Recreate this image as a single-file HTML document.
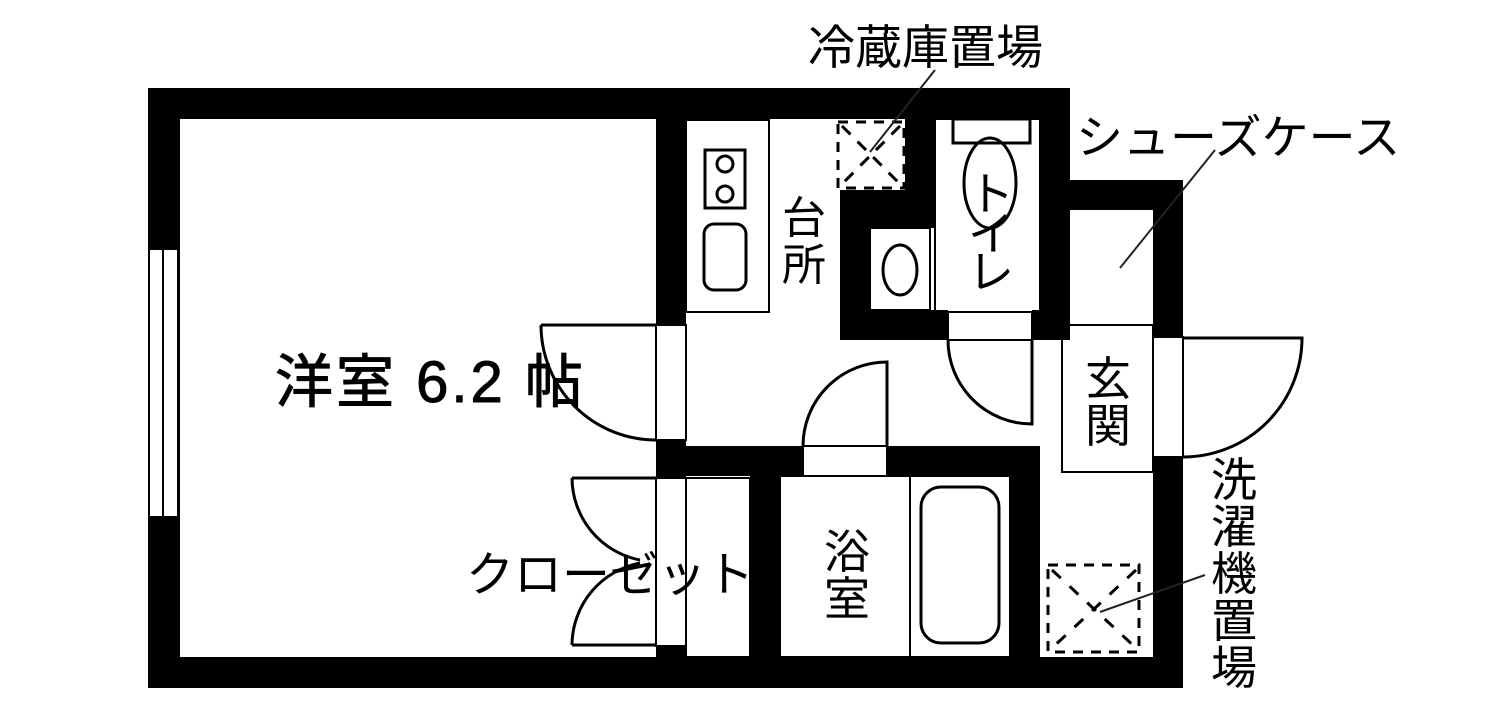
<!DOCTYPE html>
<html><head><meta charset="utf-8"><style>
html,body{margin:0;padding:0;background:#fff;}
svg{display:block;}
text{font-family:"Liberation Sans","Noto Sans CJK JP",sans-serif;fill:#000;}
</style></head><body>
<svg width="1500" height="712" viewBox="0 0 1500 712" xmlns="http://www.w3.org/2000/svg">
<g fill="#000">
<rect x="148" y="88" width="922" height="31"/>
<rect x="148" y="88" width="32" height="600"/>
<rect x="148" y="657" width="1035" height="31"/>
<rect x="1040" y="88" width="30" height="252"/>
<rect x="1040" y="180" width="143" height="30"/>
<rect x="1153" y="180" width="30" height="157"/>
<rect x="1153" y="457" width="30" height="231"/>
<rect x="656" y="88" width="30" height="237"/>
<rect x="656" y="440" width="30" height="38"/>
<rect x="656" y="646" width="30" height="20"/>
<rect x="656" y="446" width="147" height="30"/>
<rect x="887" y="446" width="153" height="30"/>
<rect x="1010" y="446" width="30" height="220"/>
<rect x="750" y="446" width="30" height="220"/>
<rect x="840" y="190" width="30" height="150"/>
<rect x="840" y="310" width="108" height="30"/>
<rect x="1032" y="310" width="10" height="30"/>
<rect x="905" y="88" width="30" height="140"/>
<rect x="840" y="190" width="95" height="38"/>
</g>
<g fill="none" stroke="#000" stroke-width="2">
<rect x="149" y="249" width="29" height="268" fill="#fff"/>
<line x1="163" y1="249" x2="163" y2="517"/>
<rect x="686" y="120" width="83" height="192"/>
<rect x="705" y="150" width="40" height="58" stroke-width="3"/>
<circle cx="725" cy="164" r="8" stroke-width="3"/>
<circle cx="725" cy="194" r="8" stroke-width="3"/>
<rect x="704" y="224" width="42" height="66" rx="10" stroke-width="3"/>
<rect x="870" y="228" width="60" height="82"/>
<ellipse cx="900" cy="270" rx="17" ry="25" stroke-width="3"/>
<rect x="935" y="119" width="105" height="193"/>
<rect x="953" y="119" width="77" height="24" stroke-width="3"/>
<ellipse cx="990" cy="183" rx="26" ry="45" stroke-width="3"/>
<rect x="948" y="312" width="84" height="28"/>
<path d="M948 340 A84 84 0 0 0 1032 424 L1032 340" stroke-width="3"/>
<rect x="838" y="122" width="66" height="66" stroke-dasharray="10,8" stroke-width="3"/>
<line x1="842" y1="126" x2="900" y2="184" stroke-dasharray="12,10" stroke-width="3"/>
<line x1="900" y1="126" x2="842" y2="184" stroke-dasharray="12,10" stroke-width="3"/>
<line x1="870" y1="152" x2="935" y2="70" stroke="#222"/>
<rect x="656" y="325" width="30" height="115"/>
<path d="M541 325 L656 325 M541 325 A115 115 0 0 0 656 440" stroke-width="3"/>
<rect x="803" y="446" width="84" height="30" fill="#fff"/>
<path d="M803 446 A84 84 0 0 1 887 362 L887 446" stroke-width="3"/>
<rect x="656" y="478" width="30" height="168"/>
<rect x="686" y="478" width="64" height="179"/>
<path d="M572 478 L656 478 M572 478 A84 84 0 0 0 640 560" stroke-width="3"/>
<path d="M572 645 L656 645 M572 645 A84 84 0 0 1 640 563" stroke-width="3"/>
<rect x="780" y="476" width="230" height="181"/>
<line x1="910" y1="476" x2="910" y2="657"/>
<rect x="921" y="487" width="78" height="156" rx="20" stroke-width="3"/>
<rect x="1062" y="325" width="91" height="147"/>
<line x1="1070" y1="325" x2="1153" y2="325"/>
<rect x="1153" y="337" width="30" height="120"/>
<path d="M1183 338 L1302 338 A119 119 0 0 1 1183 457" stroke-width="3"/>
<line x1="1120" y1="268" x2="1215" y2="150" stroke="#222"/>
<rect x="1048" y="565" width="91" height="87" stroke-dasharray="10,8" stroke-width="3"/>
<line x1="1052" y1="570" x2="1136" y2="648" stroke-dasharray="12,12" stroke-width="3"/>
<line x1="1136" y1="570" x2="1052" y2="648" stroke-dasharray="12,12" stroke-width="3"/>
<line x1="1100" y1="612" x2="1205" y2="575" stroke="#222"/>
</g>
<text x="808" y="64" font-size="47">冷蔵庫置場</text>
<text x="1076" y="154" font-size="47">シューズケース</text>
<text x="275" y="402" font-size="58" letter-spacing="3" stroke="#000" stroke-width="1">洋室 6.2 帖</text>
<text x="782" y="233" font-size="44">台</text>
<text x="782" y="280" font-size="44">所</text>
<text x="968" y="210" font-size="46">ト</text>
<text x="968" y="250" font-size="46">イ</text>
<text x="968" y="288" font-size="46">レ</text>
<text x="1085" y="395" font-size="46">玄</text>
<text x="1085" y="442" font-size="46">関</text>
<text x="466" y="591" font-size="48">クローゼット</text>
<text x="824" y="568" font-size="46">浴</text>
<text x="824" y="615" font-size="46">室</text>
<text x="1211" y="496" font-size="46">洗</text>
<text x="1211" y="543" font-size="46">濯</text>
<text x="1211" y="590" font-size="46">機</text>
<text x="1211" y="637" font-size="46">置</text>
<text x="1211" y="684" font-size="46">場</text>
</svg>
</body></html>
